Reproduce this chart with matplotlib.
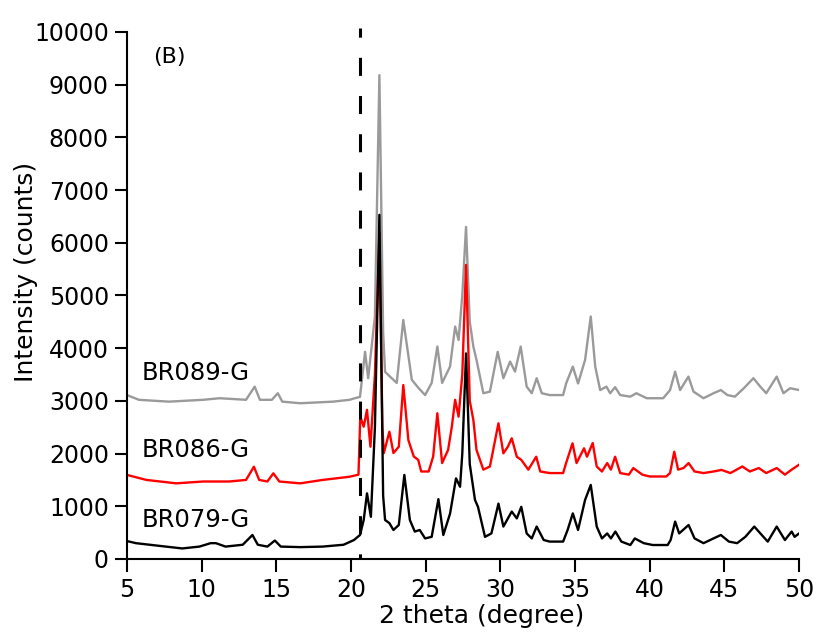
import matplotlib
matplotlib.use("Agg")
import matplotlib.pyplot as plt

# 2 theta positions / intensities
x_br089 = [5.0, 5.8, 7.8, 10.1, 11.2, 12.97, 13.55, 13.9, 14.7, 15.1, 15.4, 16.6, 18.8, 19.9, 20.25,
           20.6, 20.94, 21.15, 21.6, 21.9, 22.15, 22.28, 22.5, 23.06, 23.5, 24.07, 24.5, 24.96, 25.4,
           25.78, 26.1, 26.63, 26.97, 27.2, 27.45, 27.7, 27.95, 28.19, 28.4, 28.86, 29.3, 29.82, 30.2,
           30.65, 30.98, 31.36, 31.76, 32.1, 32.43, 32.77, 33.3, 34.2, 34.4, 34.85, 35.2, 35.67, 36.05,
           36.35, 36.68, 37.1, 37.35, 37.68, 38.02, 38.7, 39.1, 39.8, 40.9, 41.36, 41.7, 42.03, 42.59,
           42.93, 43.6, 44.27, 44.76, 45.2, 45.7, 46.3, 46.94, 47.4, 47.8, 48.5, 48.95, 49.4, 50.0]
y_br089 = [3110, 3020, 2985, 3020, 3050, 3020, 3270, 3020, 3020, 3145, 2985, 2955, 2985, 3020, 3050,
           3075, 3930, 3430, 4600, 9180, 4300, 3550, 3490, 3340, 4535, 3400, 3250, 3110, 3340,
           4030, 3340, 3650, 4410, 4155, 5000, 6300, 4500, 4030, 3780, 3145, 3175, 3930, 3430,
           3745, 3555, 4030, 3270, 3145, 3430, 3145, 3110, 3110, 3330, 3650, 3330, 3775, 4600,
           3650, 3205, 3270, 3145, 3260, 3110, 3080, 3145, 3050, 3050, 3205, 3555, 3205, 3460,
           3175, 3050, 3145, 3205, 3110, 3080, 3240, 3430, 3270, 3145, 3460, 3145, 3240, 3205]

x_br086 = [5.0, 6.3, 8.3, 10.1, 11.85, 12.97, 13.5, 13.85, 14.4, 14.8, 15.2, 16.6, 18.1, 19.9, 20.5,
           20.62, 20.85, 21.07, 21.3, 21.6, 21.9, 22.1, 22.2, 22.57, 22.84, 23.2, 23.5, 23.84, 24.2,
           24.5, 24.7, 25.2, 25.5, 25.78, 26.1, 26.5, 26.75, 26.97, 27.2, 27.45, 27.7, 27.95, 28.19,
           28.4, 28.86, 29.3, 29.87, 30.2, 30.5, 30.76, 31.1, 31.4, 31.87, 32.4, 32.67, 33.3, 34.2,
           34.4, 34.83, 35.1, 35.6, 35.8, 36.18, 36.45, 36.8, 37.15, 37.4, 37.68, 38.02, 38.6, 38.9,
           39.5, 40.0, 41.1, 41.36, 41.64, 41.9, 42.26, 42.6, 43.0, 43.6, 44.27, 44.8, 45.4, 46.2,
           46.7, 47.3, 47.8, 48.5, 49.05, 49.5, 50.0]
y_br086 = [1595, 1500, 1435, 1470, 1470, 1500, 1750, 1500, 1470, 1625, 1470, 1435, 1500, 1560, 1600,
           2700, 2510, 2830, 2130, 3500, 6200, 2500, 2010, 2415, 2010, 2130, 3300, 2255, 1945,
           1880, 1660, 1660, 1945, 2765, 1820, 2070, 2510, 3020, 2700, 3500, 5580, 3000, 2640,
           2070, 1695, 1755, 2575, 2005, 2130, 2290, 1940, 1880, 1695, 1940, 1660, 1630, 1630,
           1820, 2195, 1820, 2100, 1940, 2200, 1755, 1660, 1820, 1695, 1940, 1630, 1600, 1725,
           1600, 1565, 1565, 1630, 2035, 1695, 1725, 1820, 1660, 1630, 1660, 1690, 1630, 1755,
           1660, 1725, 1630, 1725, 1600, 1695, 1790]

x_br079 = [5.0, 5.6, 7.6, 8.7, 9.85, 10.6, 10.95, 11.6, 12.75, 13.4, 13.76, 14.4, 14.9, 15.3, 16.6,
           18.1, 19.5, 20.2, 20.6, 20.85, 21.07, 21.33, 21.6, 21.9, 22.15, 22.28, 22.57, 22.84, 23.2,
           23.57, 23.94, 24.27, 24.6, 24.96, 25.4, 25.85, 26.18, 26.63, 27.03, 27.3, 27.45, 27.7,
           27.95, 28.3, 28.5, 28.97, 29.4, 29.87, 30.2, 30.76, 31.1, 31.4, 31.76, 32.1, 32.43, 32.9,
           33.3, 34.2, 34.5, 34.85, 35.2, 35.67, 36.05, 36.45, 36.8, 37.15, 37.4, 37.7, 38.1, 38.7,
           39.0, 39.6, 40.2, 41.2, 41.4, 41.7, 41.97, 42.6, 43.0, 43.6, 44.27, 44.76, 45.3, 45.85,
           46.4, 47.0, 47.5, 47.9, 48.5, 49.05, 49.5, 49.7, 50.0]
y_br079 = [340, 300, 235, 200, 235, 300, 300, 235, 270, 455, 270, 235, 350, 235, 225,
           235, 270, 360, 455, 740, 1245, 800, 2500, 6530, 1200, 740, 680, 550, 645,
           1595, 740, 520, 550, 390, 420, 1135, 455, 860, 1530, 1370, 2000, 3900,
           1800, 1120, 990, 420, 485, 1050, 615, 900, 770, 990, 485, 390, 615, 360,
           330, 330, 550, 865, 550, 1120, 1405, 615, 390, 485, 390, 520, 330, 265,
           390, 300, 265, 265, 360, 710, 485, 645, 390, 300, 390, 455, 330, 300,
           420, 615, 455, 330, 615, 360, 520, 420, 485]

names = ["BR089-G", "BR086-G", "BR079-G"]
colors = ["#9a9a9a", "#ff0000", "#000000"]
label_y = [3530, 2070, 740]
x_ticks = [5, 10, 15, 20, 25, 30, 35, 40, 45, 50]
y_ticks = [0, 1000, 2000, 3000, 4000, 5000, 6000, 7000, 8000, 9000, 10000]
cutoff = 20.6

font_size = 17
plt.rcParams['font.family'] = ['DejaVu Sans']

fig = plt.figure(figsize=(8.16, 6.36), dpi=100)
ax = fig.add_axes([0.1556, 0.1211, 0.8237, 0.837])

series = [(x_br089, y_br089), (x_br086, y_br086), (x_br079, y_br079)]
for (xs, ys), c in zip(series, colors):
    ax.plot(xs, ys, color=c, lw=1.7, zorder=2)

# dashed separator, drawn top-down so the dash pattern starts at the top
ax.plot([cutoff, cutoff], [10076, 0], color="black", lw=2.2,
        linestyle=(2.9, (5.9, 6.6)), zorder=3)

for name, yy in zip(names, label_y):
    ax.text(6.0, yy, name, fontsize=17.5, va="center", ha="left")
ax.text(6.75, 9525, "(B)", fontsize=16, va="center", ha="left")

ax.set_xlim(5, 50)
ax.set_ylim(0, 10100)
ax.set_xticks(x_ticks)
ax.set_yticks(y_ticks)
ax.spines['top'].set_visible(False)
ax.spines['right'].set_visible(False)
ax.spines['left'].set_bounds(0, 10000)
ax.spines['left'].set_linewidth(1.5)
ax.spines['bottom'].set_linewidth(1.5)
ax.tick_params(direction="out", length=9, width=1.5, labelsize=font_size, pad=4)
ax.tick_params(axis="x", pad=5)

ax.set_xlabel("2 theta (degree)", fontsize=18)
ax.set_ylabel("Intensity (counts)", fontsize=18)
ax.xaxis.set_label_coords(0.527, -0.085)
ax.yaxis.set_label_coords(-0.133, 0.54)

plt.savefig("out.png", dpi=100)
